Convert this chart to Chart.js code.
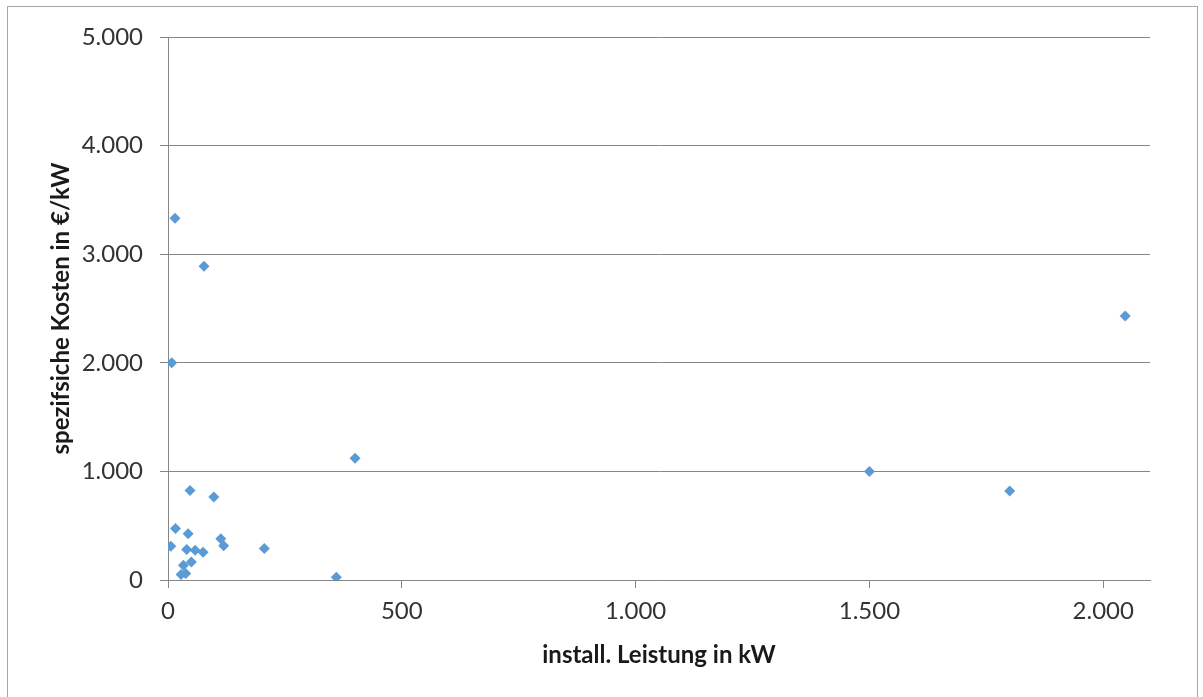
<!DOCTYPE html>
<html>
<head>
<meta charset="utf-8">
<script src="https://cdn.jsdelivr.net/npm/chart.js@4"></script>
<style>
  html, body { margin: 0; padding: 0; background: #fff; }
  #wrap { position: relative; width: 1203px; height: 697px; overflow: hidden; }
  #frame { position: absolute; left: 7px; top: 6px; width: 1189px; height: 710px; border: 1px solid #a6a6a6; }
  canvas { position: absolute; left: 0; top: 0; }
</style>
</head>
<body>
<div id="wrap">
  <div id="frame"></div>
  <canvas id="scatterChart" width="1203" height="697"></canvas>
</div>
<script>
// installierte Leistung (kW) und spezifische Kosten (€/kW)
var leistung = [15, 77, 8, 2047, 400, 1500, 1800, 47, 98, 16, 43, 113, 119, 6, 40, 58, 75, 206, 50, 33, 28, 38, 360];
var kosten   = [3330, 2890, 2000, 2430, 1120, 1000, 820, 825, 765, 475, 425, 380, 315, 310, 280, 275, 255, 290, 165, 135, 50, 60, 25];
var xTicks = [0, 500, 1000, 1500, 2000];
var yTicks = [0, 1000, 2000, 3000, 4000, 5000];

function deFormat(v) {
    return String(v).replace(/\B(?=(\d{3})+(?!\d))/g, ".");
}

var points = leistung.map(function (x, i) { return { x: x, y: kosten[i] }; });

var ctx = document.getElementById("scatterChart").getContext("2d");

var scatterChart = new Chart(ctx, {
    type: "scatter",
    data: {
        datasets: [{
            label: "Kosten",
            data: points,
            pointStyle: "rectRot",
            pointRadius: 5.5,
            pointHoverRadius: 5.5,
            backgroundColor: "#5B9BD5",
            borderColor: "#5B9BD5",
            borderWidth: 0
        }]
    },
    options: {
        responsive: false,
        animation: false,
        layout: {
            padding: { left: 0, top: 37, right: 53, bottom: 0 }
        },
        plugins: {
            legend: { display: false },
            tooltip: { enabled: false }
        },
        scales: {
            x: {
                type: "linear",
                min: 0,
                max: 2100,
                afterFit: function (scale) { scale.height = 117; },
                afterBuildTicks: function (scale) {
                    scale.ticks = xTicks.map(function (v) { return { value: v }; });
                },
                ticks: {
                    color: "#333333",
                    padding: 9,
                    maxRotation: 0,
                    font: { family: "Lato", size: 24 },
                    callback: function (value) { return deFormat(value); }
                },
                grid: {
                    drawOnChartArea: false,
                    drawTicks: true,
                    tickLength: 8,
                    color: "#868686"
                },
                border: { color: "#868686", width: 1 },
                title: {
                    display: true,
                    text: "install. Leistung in kW",
                    color: "#1a1a1a",
                    font: { family: "Lato", size: 24, weight: "bold" },
                    padding: { top: 0, bottom: 27 }
                }
            },
            y: {
                type: "linear",
                min: 0,
                max: 5000,
                afterFit: function (scale) { scale.width = 168; },
                afterBuildTicks: function (scale) {
                    scale.ticks = yTicks.map(function (v) { return { value: v }; });
                },
                ticks: {
                    color: "#333333",
                    padding: 17,
                    font: { family: "Lato", size: 24 },
                    callback: function (value) { return deFormat(value); }
                },
                grid: {
                    drawTicks: true,
                    tickLength: 8,
                    color: "#868686",
                    lineWidth: 1
                },
                border: { color: "#868686", width: 1 },
                title: {
                    display: true,
                    text: "spezifsiche Kosten in €/kW",
                    color: "#1a1a1a",
                    font: { family: "Lato", size: 24, weight: "bold" },
                    padding: { top: 47, bottom: 0 }
                }
            }
        }
    }
});
</script>
</body>
</html>
